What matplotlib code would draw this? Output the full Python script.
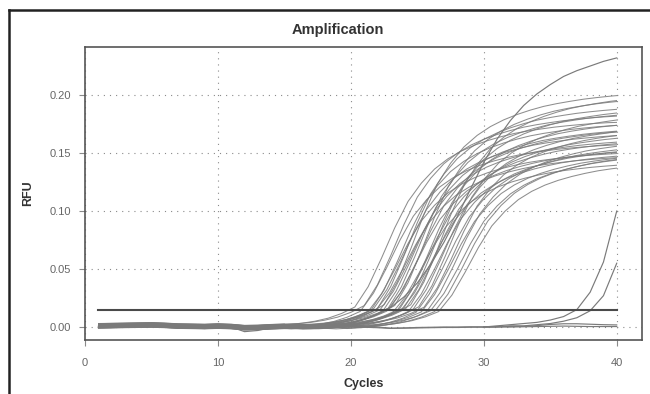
import numpy as np
import matplotlib
matplotlib.use("Agg")
import matplotlib.pyplot as plt
from matplotlib.lines import Line2D
from matplotlib.patches import Rectangle

plt.rcParams['font.family'] = ['Liberation Sans', 'DejaVu Sans']

# Cycle axis and threshold
cycles = np.arange(1, 41)
threshold = 0.0147

# Normalised shape of one amplification curve:
# offsets (cycles) from the threshold crossing and fraction of plateau
shape_offsets = [-6, -5, -4, -3, -2, -1, 0, 1, 2, 3, 4, 5, 6, 7, 8, 9, 10,
                 11, 12, 13, 14, 15, 16, 17, 18, 19, 20]
shape_values = [0.000, 0.004, 0.010, 0.020, 0.035, 0.058, 0.090, 0.190,
                0.330, 0.480, 0.610, 0.700, 0.770, 0.820, 0.858, 0.887,
                0.910, 0.929, 0.945, 0.957, 0.967, 0.976, 0.983, 0.989,
                0.994, 0.998, 1.000]

# Main bundle: threshold-crossing cycle and plateau height per well
crossings = [20.3, 20.7, 21.0, 21.3, 21.5, 21.7, 21.9, 22.0, 22.2, 22.4,
             22.5, 22.7, 22.8, 23.0, 23.1, 23.3, 23.5, 23.6, 23.8, 24.0,
             24.1, 24.3, 24.5, 24.7, 24.9, 25.1, 25.3, 25.5, 25.7, 26.0,
             26.3, 26.6]
plateaus = [0.175, 0.158, 0.180, 0.150, 0.176, 0.165, 0.145, 0.190, 0.160,
            0.172, 0.200, 0.152, 0.185, 0.168, 0.142, 0.196, 0.160, 0.178,
            0.148, 0.188, 0.165, 0.155, 0.198, 0.172, 0.158, 0.182, 0.150,
            0.168, 0.162, 0.148, 0.150, 0.142]
baseline_offsets = [0.0015, -0.0008, 0.0022, 0.0000, -0.0015, 0.0008,
                    0.0018, -0.0012, 0.0005, -0.0018, 0.0012, 0.0000,
                    -0.0006, 0.0021, -0.0009, 0.0009, 0.0003, -0.0015,
                    0.0016, -0.0003, 0.0006, -0.0010, 0.0013, 0.0000,
                    -0.0016, 0.0010, -0.0005, 0.0019, -0.0013, 0.0008,
                    -0.0002, 0.0005]

# Shared baseline wobble for cycles 1..22
baseline_noise = [0.0008, 0.0010, 0.0012, 0.0014, 0.0016, 0.0012, 0.0006,
                  0.0004, 0.0002, 0.0006, 0.0002, -0.0008, -0.0006, 0.0000,
                  0.0004, 0.0003, 0.0001, 0.0005, 0.0010, 0.0018, 0.0025,
                  0.0030]

# Tall, slowly rising outlier (cycles 18..40)
tall_cycles = np.arange(18, 41)
tall_values = [0.001, 0.002, 0.004, 0.007, 0.011, 0.017, 0.026, 0.038,
               0.054, 0.073, 0.095, 0.119, 0.142, 0.162, 0.178, 0.191,
               0.201, 0.209, 0.216, 0.221, 0.225, 0.229, 0.232]

# Two late wells (cycles 30..40)
late_cycles = np.arange(30, 41)
late1_values = [0.000, 0.001, 0.002, 0.003, 0.004, 0.006, 0.009, 0.015,
                0.030, 0.056, 0.100]
late2_values = [0.000, 0.000, 0.001, 0.001, 0.002, 0.003, 0.005, 0.008,
                0.014, 0.027, 0.055]

# Flat (negative) wells, cycles 1..40
flat1_values = [0.0006, 0.0008, 0.0010, 0.0012, 0.0010, 0.0008, 0.0004,
                0.0002, 0.0000, 0.0004, 0.0000, -0.0040, -0.0030, -0.0005,
                0.0002, 0.0002, 0.0000, 0.0003, 0.0006, 0.0008, 0.0006,
                0.0000, -0.0010, -0.0008, -0.0004, -0.0002, 0.0000, 0.0000,
                0.0002, 0.0002, 0.0004, 0.0004, 0.0006, 0.0012, 0.0022,
                0.0028, 0.0028, 0.0024, 0.0020, 0.0018]
flat2_values = [-0.0006, -0.0004, -0.0002, 0.0000, 0.0002, 0.0000,
                -0.0004, -0.0006, -0.0008, -0.0004, -0.0006, -0.0010,
                -0.0008, -0.0006, -0.0004, -0.0004, -0.0006, -0.0004,
                -0.0002, 0.0000, -0.0002, -0.0006, -0.0012, -0.0010,
                -0.0008, -0.0006, -0.0004, -0.0004, -0.0002, -0.0002,
                0.0000, 0.0000, 0.0002, 0.0004, 0.0006, 0.0008, 0.0006,
                0.0004, 0.0004, 0.0004]

xticks = [0, 10, 20, 30, 40]
yticks = [0.00, 0.05, 0.10, 0.15, 0.20]

curve_color = '#7a7a7a'
grid_color = '#8a8a8a'
text_color = '#666666'

fig = plt.figure(figsize=(6.5, 3.94), dpi=100)
ax = fig.add_axes([85 / 650, 1 - 340 / 394, 557 / 650, 293 / 394])

clip = Rectangle((1, -1), 39, 2, transform=ax.transData)

for c, p, off in zip(crossings, plateaus, baseline_offsets):
    start = int(np.floor(c - 6))
    bx = list(cycles[:start])
    by = [v + off for v in baseline_noise[:start]]
    sx = [c + k for k in shape_offsets]
    sy = [p * v + off for v in shape_values]
    line, = ax.plot(bx + sx, by + sy, color=curve_color, lw=0.75, alpha=0.85)
    line.set_clip_path(clip)

ax.plot(tall_cycles, tall_values, color=curve_color, lw=0.85)
ax.plot(late_cycles, late1_values, color=curve_color, lw=0.85)
ax.plot(late_cycles, late2_values, color=curve_color, lw=0.85)
ax.plot(cycles, flat1_values, color=curve_color, lw=0.85)
ax.plot(cycles, flat2_values, color=curve_color, lw=0.85)

# threshold
ax.plot([cycles[0], cycles[-1]], [threshold, threshold], color='#4a4a4a',
        lw=1.5)

ax.set_xlim(0, 41.9)
ax.set_ylim(-0.0112, 0.2414)
ax.set_xticks(xticks)
ax.set_yticks(yticks)
ax.set_yticklabels([f"{v:.2f}" for v in yticks])
ax.grid(True, color=grid_color, linestyle=(0, (1, 4.5)), lw=0.8)
ax.tick_params(direction='out', length=4, width=0.8, color=grid_color,
               labelsize=8, labelcolor=text_color)
ax.tick_params(axis='y', pad=6)
ax.tick_params(axis='x', pad=9)
for s in ax.spines.values():
    s.set_color('#555555')
    s.set_linewidth(1.2)

ax.set_xlabel('Cycles', fontsize=9, fontweight='bold', color='#333333',
              labelpad=7)
fig.text(28 / 650, 1 - 193 / 394, 'RFU', rotation=90, fontsize=9,
         fontweight='bold', color='#333333', ha='center', va='center')
fig.text(338 / 650, 1 - 30 / 394, 'Amplification', fontsize=10.5,
         fontweight='bold', color='#333333', ha='center', va='center')

# outer frame of the screenshot (open on right and bottom)
fig.add_artist(Line2D([9 / 650, 9 / 650], [0, 1 - 10 / 394],
                      color='#222222', lw=1.8))
fig.add_artist(Line2D([9 / 650, 1], [1 - 10 / 394, 1 - 10 / 394],
                      color='#222222', lw=1.8))

fig.savefig('out.png', dpi=100)
